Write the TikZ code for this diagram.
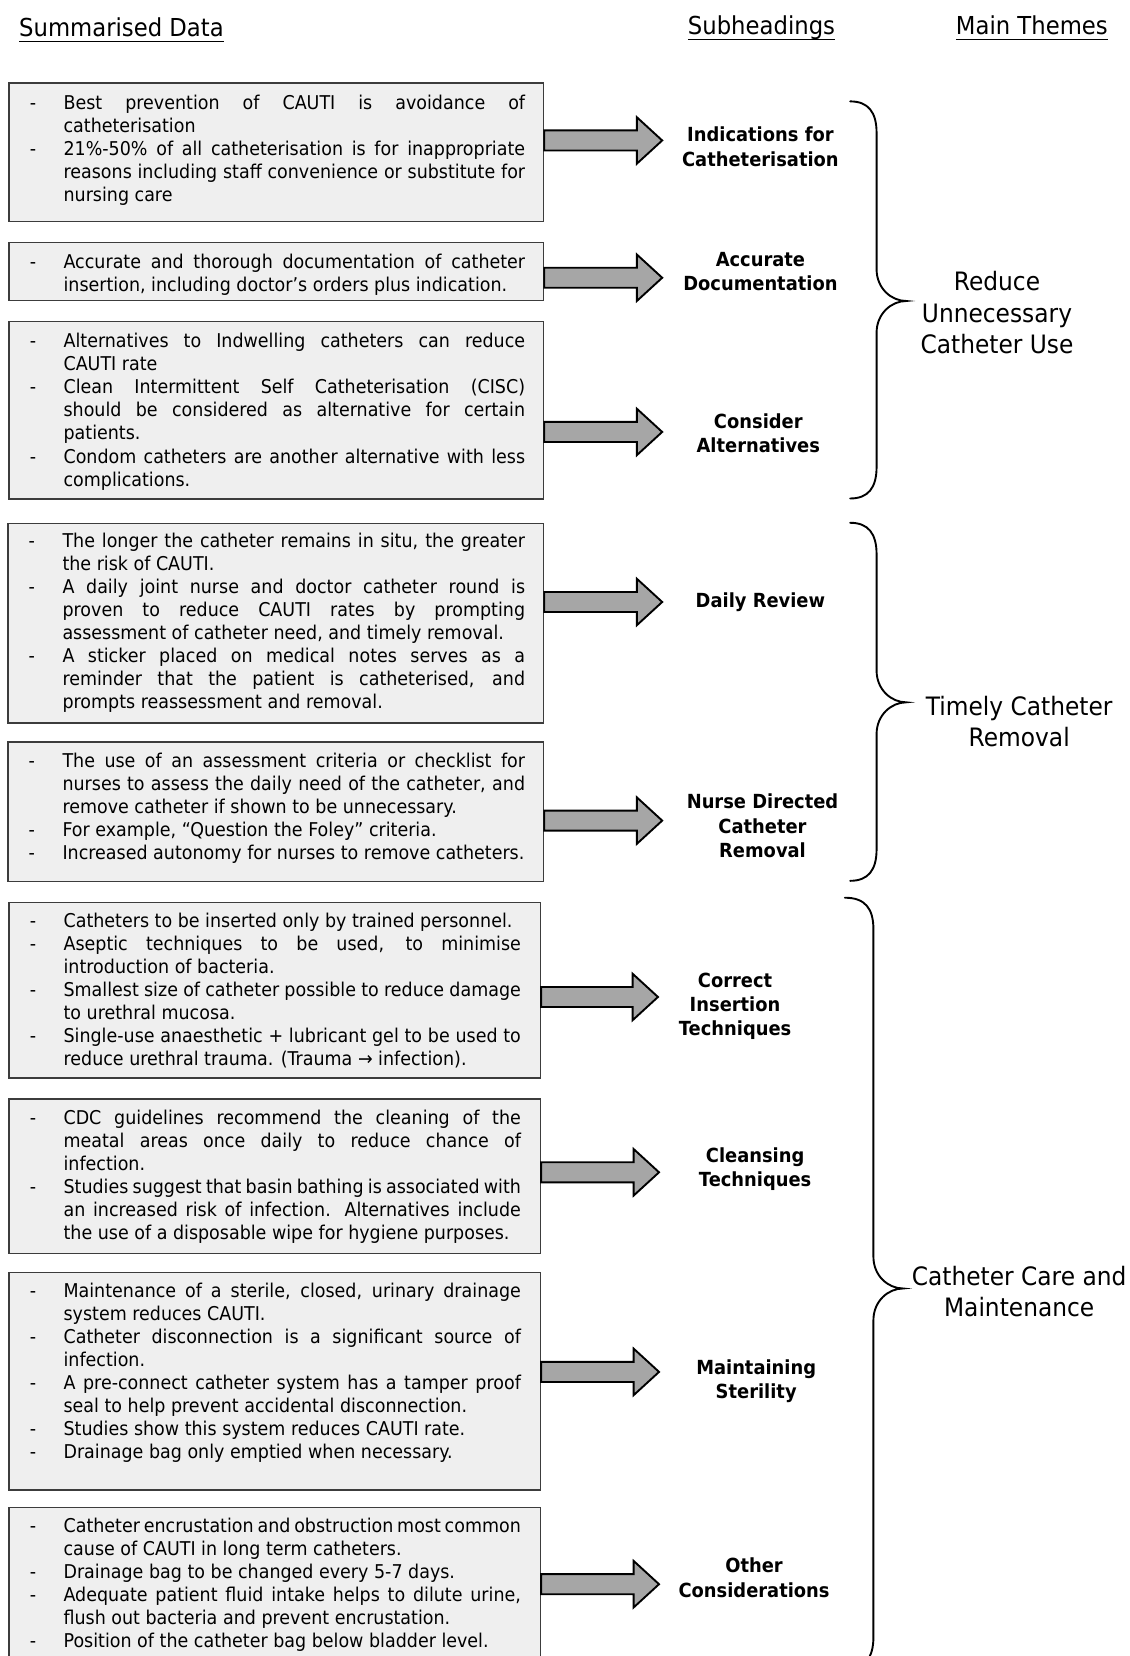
\documentclass[tikz,border=0pt]{standalone}
\usepackage{fontspec}
\setmainfont{DejaVu Sans}[FakeStretch=0.92]
\usetikzlibrary{calc}

\definecolor{boxfill}{HTML}{EFEFEF}
\definecolor{boxline}{HTML}{3C3C3C}
\definecolor{arrowfill}{HTML}{A6A6A6}

% one bullet item with a hyphen and a hanging indent
\newcommand\itm{\par\noindent\hangindent=32pt\hangafter=1\strut\makebox[32pt][l]{-}}
% underlined column heading
\newcommand\ulined[1]{\setbox0=\hbox{#1}\rlap{\rule[-5pt]{\wd0}{1.4pt}}\box0}

\tikzset{
  sumbox/.style={draw=boxline, line width=1.3pt, fill=boxfill, anchor=north west, inner sep=0pt},
  sumtext/.style={anchor=north west, inner sep=0pt, align=justify,
    font=\fontsize{18}{21.8}\selectfont},
  subhead/.style={align=center, inner sep=0pt, font=\bfseries\fontsize{18.4}{23}\selectfont},
  theme/.style={align=center, inner sep=0pt, font=\fontsize{24}{29.5}\selectfont},
  colhead/.style={inner sep=0pt, font=\fontsize{23.4}{28}\selectfont},
  blockarrow/.style={draw=black, line width=1.8pt, fill=arrowfill, line join=miter},
  bracestyle/.style={draw=black, line width=1.8pt, line cap=round},
}

% block arrow from tail coordinate #1 to tip coordinate #2 (same height)
\newcommand\blockarrow[2]{%
  \draw[blockarrow] ($(#1)+(0,-9.5)$) -- ($(#2)+(-24,-9.5)$) -- ($(#2)+(-24,-22)$)
    -- (#2) -- ($(#2)+(-24,22)$) -- ($(#2)+(-24,9.5)$) -- ($(#1)+(0,9.5)$) -- cycle;}

% right curly brace: #1 x of ends, #2 x of stem, #3 x of tip, #4 top, #5 tip y, #6 bottom
\newcommand\themebrace[6]{%
  \draw[bracestyle] (#1,#4) .. controls ({#2-8},#4) and (#2,{#4+10}) .. (#2,{#4+30})
    -- (#2,{#5-30}) .. controls (#2,{#5-12}) and ({#3-14},#5) .. (#3,#5)
    .. controls ({#3-14},#5) and (#2,{#5+12}) .. (#2,{#5+30})
    -- (#2,{#6-30}) .. controls (#2,{#6-10}) and ({#2-8},#6) .. (#1,#6);}

\begin{document}
\begin{tikzpicture}[x=1pt, y=-1pt]
\useasboundingbox (0,0) rectangle (1069,1568);
\clip (0,0) rectangle (1069,1568);
\fill[white] (0,0) rectangle (1069,1568);

% column headings
\node[colhead, anchor=base west] (h1) at (18,35) {\ulined{Summarised Data}};
\node[colhead, anchor=base] (h2) at (721,33) {\ulined{Subheadings}};
\node[colhead, anchor=base] (h3) at (977,33) {\ulined{Main Themes}};

% summary boxes
\node[sumbox, minimum width=506, minimum height=131] (b1) at (8,78) {};
\node[sumtext, text width=469] (b1t) at ($(b1.north west)+(20,3.4)$) {%
\itm Best prevention of CAUTI is avoidance of\linebreak catheterisation
\itm 21\%-50\% of all catheterisation is for inappropriate\linebreak reasons including staff convenience or substitute for\linebreak nursing care\par};

\node[sumbox, minimum width=506, minimum height=55] (b2) at (8,229) {};
\node[sumtext, text width=469] (b2t) at ($(b2.north west)+(20,3.4)$) {%
\itm Accurate and thorough documentation of catheter\linebreak insertion, including doctor’s orders plus indication.\par};

\node[sumbox, minimum width=506, minimum height=168] (b3) at (8,304) {};
\node[sumtext, text width=469] (b3t) at ($(b3.north west)+(20,3.4)$) {%
\itm Alternatives to Indwelling catheters can reduce\linebreak CAUTI rate
\itm Clean Intermittent Self Catheterisation (CISC)\linebreak should be considered as alternative for certain\linebreak patients.
\itm Condom catheters are another alternative with less\linebreak complications.\par};

\node[sumbox, minimum width=507, minimum height=189] (b4) at (7,495) {};
\node[sumtext, text width=470] (b4t) at ($(b4.north west)+(20,1.4)$) {%
\itm The longer the catheter remains in situ, the greater\linebreak the risk of CAUTI.
\itm A daily joint nurse and doctor catheter round is\linebreak proven to reduce CAUTI rates by prompting\linebreak assessment of catheter need, and timely removal.
\itm A sticker placed on medical notes serves as a\linebreak reminder that the patient is catheterised, and\linebreak prompts reassessment and removal.\par};

\node[sumbox, minimum width=507, minimum height=132] (b5) at (7,702) {};
\node[sumtext, text width=470] (b5t) at ($(b5.north west)+(20,2.4)$) {%
\itm The use of an assessment criteria or checklist for\linebreak nurses to assess the daily need of the catheter, and\linebreak remove catheter if shown to be unnecessary.
\itm For example, “Question the Foley” criteria.
\itm Increased autonomy for nurses to remove catheters.\par};

\node[sumbox, minimum width=503, minimum height=166] (b6) at (8,854) {};
\node[sumtext, text width=465] (b6t) at ($(b6.north west)+(20,2.4)$) {%
\itm Catheters to be inserted only by trained personnel.
\itm Aseptic techniques to be used, to minimise\linebreak introduction of bacteria.
\itm Smallest size of catheter possible to reduce damage\linebreak to urethral mucosa.
\itm Single-use anaesthetic + lubricant gel to be used to\linebreak reduce urethral trauma. (Trauma → infection).\par};

\node[sumbox, minimum width=503, minimum height=146] (b7) at (8,1040) {};
\node[sumtext, text width=465] (b7t) at ($(b7.north west)+(20,2.4)$) {%
\itm CDC guidelines recommend the cleaning of the\linebreak meatal areas once daily to reduce chance of\linebreak infection.
\itm Studies suggest that basin bathing is associated with\linebreak an increased risk of infection. Alternatives include\linebreak the use of a disposable wipe for hygiene purposes.\par};

\node[sumbox, minimum width=503, minimum height=206] (b8) at (8,1204) {};
\node[sumtext, text width=465] (b8t) at ($(b8.north west)+(20,2.4)$) {%
\itm Maintenance of a sterile, closed, urinary drainage\linebreak system reduces CAUTI.
\itm Catheter disconnection is a significant source of\linebreak infection.
\itm A pre-connect catheter system has a tamper proof\linebreak seal to help prevent accidental disconnection.
\itm Studies show this system reduces CAUTI rate.
\itm Drainage bag only emptied when necessary.\par};

\node[sumbox, minimum width=503, minimum height=170] (b9) at (8,1427) {};
\node[sumtext, text width=465] (b9t) at ($(b9.north west)+(20,2.4)$) {%
\itm Catheter encrustation and obstruction most common\linebreak cause of CAUTI in long term catheters.
\itm Drainage bag to be changed every 5-7 days.
\itm Adequate patient fluid intake helps to dilute urine,\linebreak flush out bacteria and prevent encrustation.
\itm Position of the catheter bag below bladder level.\par};

% subheadings
\node[subhead] (s1) at (720,139) {Indications for\\Catheterisation};
\node[subhead] (s2) at (720,257) {Accurate\\Documentation};
\node[subhead] (s3) at (718,410) {Consider\\Alternatives};
\node[subhead] (s4) at (720,570) {Daily Review};
\node[subhead] (s5) at (722,782) {Nurse Directed\\Catheter\\Removal};
\node[subhead] (s6) at (696,953) {Correct\\Insertion\\Techniques};
\node[subhead] (s7) at (715,1107) {Cleansing\\Techniques};
\node[subhead] (s8) at (716,1308) {Maintaining\\Sterility};
\node[subhead] (s9) at (714,1494) {Other\\Considerations};

% arrow ends
\coordinate (p1) at (b1.east |- 0,133);  \coordinate (q1) at (627,133);
\coordinate (p2) at (b2.east |- 0,263);  \coordinate (q2) at (627,263);
\coordinate (p3) at (b3.east |- 0,409);  \coordinate (q3) at (627,409);
\coordinate (p4) at (b4.east |- 0,570);  \coordinate (q4) at (627,570);
\coordinate (p5) at (b5.east |- 0,777);  \coordinate (q5) at (627,777);
\coordinate (p6) at (b6.east |- 0,944);  \coordinate (q6) at (623,944);
\coordinate (p7) at (b7.east |- 0,1110); \coordinate (q7) at (624,1110);
\coordinate (p8) at (b8.east |- 0,1299); \coordinate (q8) at (624,1299);
\coordinate (p9) at (b9.east |- 0,1500); \coordinate (q9) at (624,1500);
\foreach \i in {1,...,9} {\blockarrow{p\i}{q\i}}

% braces grouping subheadings into themes
\themebrace{805}{830}{858}{96}{285}{472}
\themebrace{805}{830}{858}{495}{665}{834}
\themebrace{800}{827}{855}{850}{1220}{1580}

% main themes
\node[theme] (m1) at (944,296) {Reduce\\Unnecessary\\Catheter Use};
\node[theme] (m2) at (965,683) {Timely Catheter\\Removal};
\node[theme] (m3) at (965,1223) {Catheter Care and\\Maintenance};
\end{tikzpicture}
\end{document}
